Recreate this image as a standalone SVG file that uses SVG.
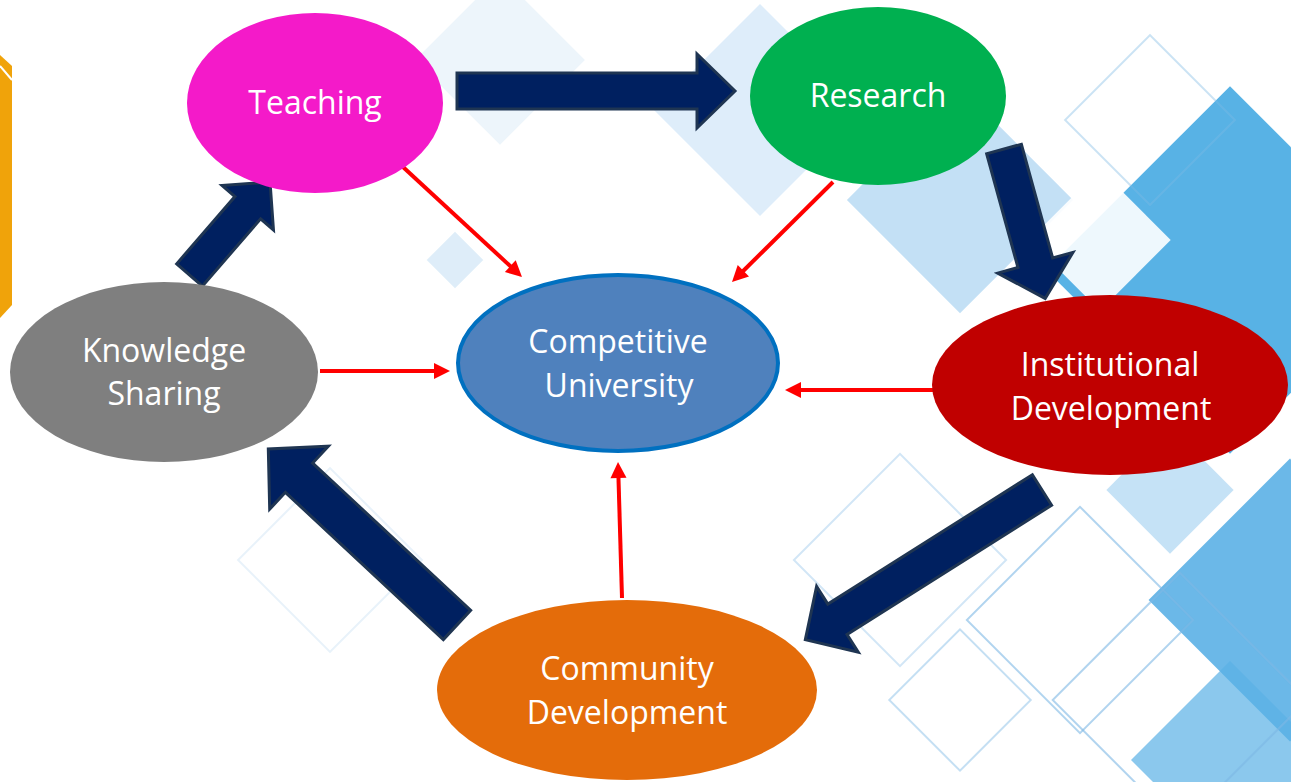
<svg xmlns="http://www.w3.org/2000/svg" width="1291" height="782" viewBox="0 0 1291 782">
<style>
.lbl{font-family:"Open Sans","Noto Sans","DejaVu Sans",sans-serif;font-size:32px;fill:#ffffff;text-anchor:middle}
.big{fill:#002060;stroke:#1F3552;stroke-width:3;stroke-linejoin:miter}
.red{stroke:#FF0000;stroke-width:4;fill:none;marker-end:url(#rh)}
.fillsq{stroke:none}
.outsq{fill:none;stroke:#7DB8E4;stroke-width:2}
</style>
<defs>
<marker id="rh" markerUnits="userSpaceOnUse" markerWidth="16" markerHeight="16" refX="6" refY="8" orient="auto" overflow="visible">
<path d="M0,0 L16,8 L0,16 z" fill="#FF0000"/>
</marker>
</defs>
<g id="background">
<rect x="0" y="0" width="1291" height="782" fill="#ffffff"/>
<rect class="fillsq" x="440" y="0" width="120" height="120" transform="rotate(45 500 60)" fill="#DCEBF8" opacity="0.5"/>
<rect class="fillsq" x="685" y="35" width="150" height="150" transform="rotate(45 760 110)" fill="#C3DFF5" opacity="0.55"/>
<rect class="fillsq" x="435" y="240" width="40" height="40" transform="rotate(45 455 260)" fill="#D0E5F6" opacity="0.7"/>
<rect class="fillsq" x="880" y="120" width="160" height="160" transform="rotate(45 960 200)" fill="#9BCBEE" opacity="0.6"/>
<rect class="fillsq" x="1100" y="140" width="260" height="260" transform="rotate(45 1230 270)" fill="#2E9FDF" opacity="0.8"/>
<rect class="fillsq" x="1050" y="190" width="100" height="100" transform="rotate(45 1100 240)" fill="#ffffff" opacity="0.9"/>
<rect class="fillsq" x="1125" y="445" width="90" height="90" transform="rotate(45 1170 490)" fill="#8CC6EE" opacity="0.5"/>
<rect class="fillsq" x="1190" y="500" width="200" height="200" transform="rotate(45 1290 600)" fill="#3AA0E0" opacity="0.75"/>
<rect class="fillsq" x="1160" y="690" width="140" height="140" transform="rotate(45 1230 760)" fill="#5AB0E6" opacity="0.7"/>
<rect class="outsq" x="1000" y="540" width="160" height="160" transform="rotate(45 1080 620)" opacity="0.6"/>
<rect class="outsq" x="1090" y="610" width="180" height="180" transform="rotate(45 1180 700)" opacity="0.6"/>
<rect class="outsq" x="825" y="485" width="150" height="150" transform="rotate(45 900 560)" opacity="0.35"/>
<rect class="outsq" x="910" y="650" width="100" height="100" transform="rotate(45 960 700)" opacity="0.45"/>
<rect class="outsq" x="265" y="495" width="130" height="130" transform="rotate(45 330 560)" opacity="0.18"/>
<rect class="outsq" x="1090" y="60" width="120" height="120" transform="rotate(45 1150 120)" opacity="0.4"/>
<polygon points="0,55 12,66 12,305 0,318" fill="#F0A30A"/>
<line x1="0" y1="66" x2="12" y2="80" stroke="#ffffff" stroke-width="2"/>
</g>
<g id="connectors">
<polygon class="big" transform="translate(457,91)" points="0,-18 240,-18 240,-37 278,0 240,37 240,18 0,18"/>
<polygon class="big" transform="translate(1004,149) rotate(74.6)" points="0,-18 118,-18 118,-39 155,0 118,39 118,18 0,18"/>
<polygon class="big" transform="translate(1042,490) rotate(147.7)" points="0,-18 242,-18 242,-39 280,0 242,39 242,18 0,18"/>
<polygon class="big" transform="translate(457,625) rotate(-137)" points="0,-20 216,-20 216,-43 258,0 216,43 216,20 0,20"/>
<polygon class="big" transform="translate(189.5,275) rotate(-49.1)" points="0,-17 89,-17 89,-34 123,0 89,34 89,17 0,17"/>
<line class="red" x1="403" y1="167" x2="514.7" y2="270.2"/>
<line class="red" x1="833" y1="182" x2="739.1" y2="275"/>
<line class="red" x1="320" y1="371" x2="440" y2="371"/>
<line class="red" x1="945" y1="390" x2="795" y2="390"/>
<line class="red" x1="622" y1="598" x2="618.3" y2="472"/>
</g>
<g id="teaching">
<ellipse cx="315" cy="103" rx="128" ry="90" fill="#F41AC9"/>
<text class="lbl" x="315" y="114">Teaching</text>
</g>
<g id="research">
<ellipse cx="878" cy="96" rx="128" ry="89" fill="#00B050"/>
<text class="lbl" x="878" y="107">Research</text>
</g>
<g id="institutional">
<ellipse cx="1110" cy="385" rx="178" ry="90" fill="#C00000"/>
<text class="lbl" x="1110" y="376">Institutional</text>
<text class="lbl" x="1111" y="420">Development</text>
</g>
<g id="community">
<ellipse cx="627" cy="690" rx="190" ry="90" fill="#E46C0A"/>
<text class="lbl" x="627" y="680">Community</text>
<text class="lbl" x="627" y="724">Development</text>
</g>
<g id="knowledge">
<ellipse cx="164" cy="372" rx="154" ry="90" fill="#7F7F7F"/>
<text class="lbl" x="164" y="362">Knowledge</text>
<text class="lbl" x="164" y="405">Sharing</text>
</g>
<g id="competitive">
<ellipse cx="618" cy="363" rx="160" ry="88" fill="#4F81BD" stroke="#0070C0" stroke-width="4"/>
<text class="lbl" x="618" y="353">Competitive</text>
<text class="lbl" x="619" y="397">University</text>
</g>
</svg>
